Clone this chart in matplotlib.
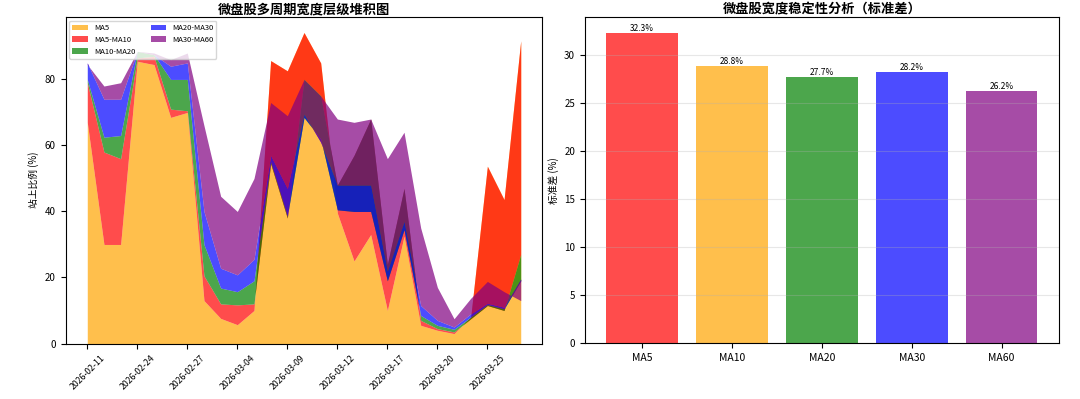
import matplotlib
matplotlib.use('Agg')
import matplotlib.pyplot as plt
import numpy as np

plt.rcParams['font.family'] = ['Noto Sans CJK SC', 'DejaVu Sans']
plt.rcParams['axes.unicode_minus'] = False

# ---- data ----
dates = ['2026-02-11', '2026-02-12', '2026-02-13', '2026-02-24', '2026-02-25',
         '2026-02-26', '2026-02-27', '2026-03-02', '2026-03-03', '2026-03-04',
         '2026-03-05', '2026-03-06', '2026-03-09', '2026-03-10', '2026-03-11',
         '2026-03-12', '2026-03-13', '2026-03-16', '2026-03-17', '2026-03-18',
         '2026-03-19', '2026-03-20', '2026-03-23', '2026-03-24', '2026-03-25',
         '2026-03-26', '2026-03-27']

ma5 = [67, 30, 30, 85.5, 84.5, 68.5, 70, 13, 7.6, 5.7, 10, 85.7, 82.6, 94.2, 85,
       39.5, 25, 33, 10, 32.5, 5.5, 4, 3, 8, 53.7, 43.6, 91.7]
ma10 = [79, 58, 56, 86.5, 87, 71, 70.5, 20.5, 12, 11.7, 12, 54.5, 38, 80, 75,
        48, 57, 68, 24, 47, 7, 4.5, 3.5, 7.5, 11.5, 10, 27]
ma20 = [80, 62.5, 63, 88.5, 87.5, 80, 80, 30, 16.8, 15.7, 19, 55, 38.5, 68.5, 62,
        40.5, 40, 40, 19, 34.5, 8.5, 5.5, 4.3, 8, 11.8, 10.5, 19]
ma30 = [85, 74, 74, 88.5, 87.5, 84, 85, 40, 22.8, 20.8, 25.5, 57, 47, 69.5, 61,
        48, 48, 48, 22, 37, 11.5, 7, 5, 9, 12.2, 11, 19.5]
ma60 = [84.5, 78, 79, 88.5, 88, 86, 88, 66, 44.6, 40, 50, 73, 69, 80, 75,
        68, 67, 68, 56, 64, 35, 17, 7.5, 13.7, 18.8, 15.7, 13]

layer_labels = ['MA5', 'MA5-MA10', 'MA10-MA20', 'MA20-MA30', 'MA30-MA60']
layer_colors = ['orange', 'red', 'green', 'blue', 'purple']

std_labels = ['MA5', 'MA10', 'MA20', 'MA30', 'MA60']
std_values = [32.3, 28.8, 27.7, 28.2, 26.2]
std_colors = ['red', 'orange', 'green', 'blue', 'purple']

# ---- figure ----
fig = plt.figure(figsize=(10.8, 3.99), dpi=100)
W, H = 1080.0, 399.0
ax1 = fig.add_axes([65.6 / W, 1 - 343.5 / H, (542.4 - 65.6) / W, (343.5 - 17) / H])
ax2 = fig.add_axes([584.8 / W, 1 - 343.3 / H, (1059 - 584.8) / W, (343.3 - 17) / H])

x = np.arange(len(dates))
levels = [np.zeros(len(dates)), np.array(ma5), np.array(ma10),
          np.array(ma20), np.array(ma30), np.array(ma60)]
for k in range(5):
    ax1.fill_between(x, levels[k], levels[k + 1], color=layer_colors[k],
                     alpha=0.7, label=layer_labels[k], linewidth=0)

ax1.set_ylim(bottom=0)
ax1.set_xticks(x[::3])
ax1.set_xticklabels(dates[::3], rotation=45, fontsize=6.3)
ax1.tick_params(axis='y', labelsize=7)
ax1.set_ylabel('站上比例 (%)', fontsize=7)
ax1.set_title('微盘股多周期宽度层级堆积图', fontsize=9.5, fontweight='bold', pad=2.5)
ax1.legend(loc='upper left', ncol=2, fontsize=5.5)

bars = ax2.bar(std_labels, std_values, color=std_colors, alpha=0.7)
for b, v in zip(bars, std_values):
    ax2.text(b.get_x() + b.get_width() / 2, b.get_height(), f'{v:.1f}%',
             ha='center', va='bottom', fontsize=6)
ax2.set_ylabel('标准差 (%)', fontsize=7)
ax2.set_title('微盘股宽度稳定性分析（标准差）', fontsize=9.5, fontweight='bold', pad=2.5)
ax2.grid(axis='y', alpha=0.3)
ax2.tick_params(axis='y', labelsize=7)
ax2.tick_params(axis='x', labelsize=7.5)

fig.savefig('out.png', dpi=100)
